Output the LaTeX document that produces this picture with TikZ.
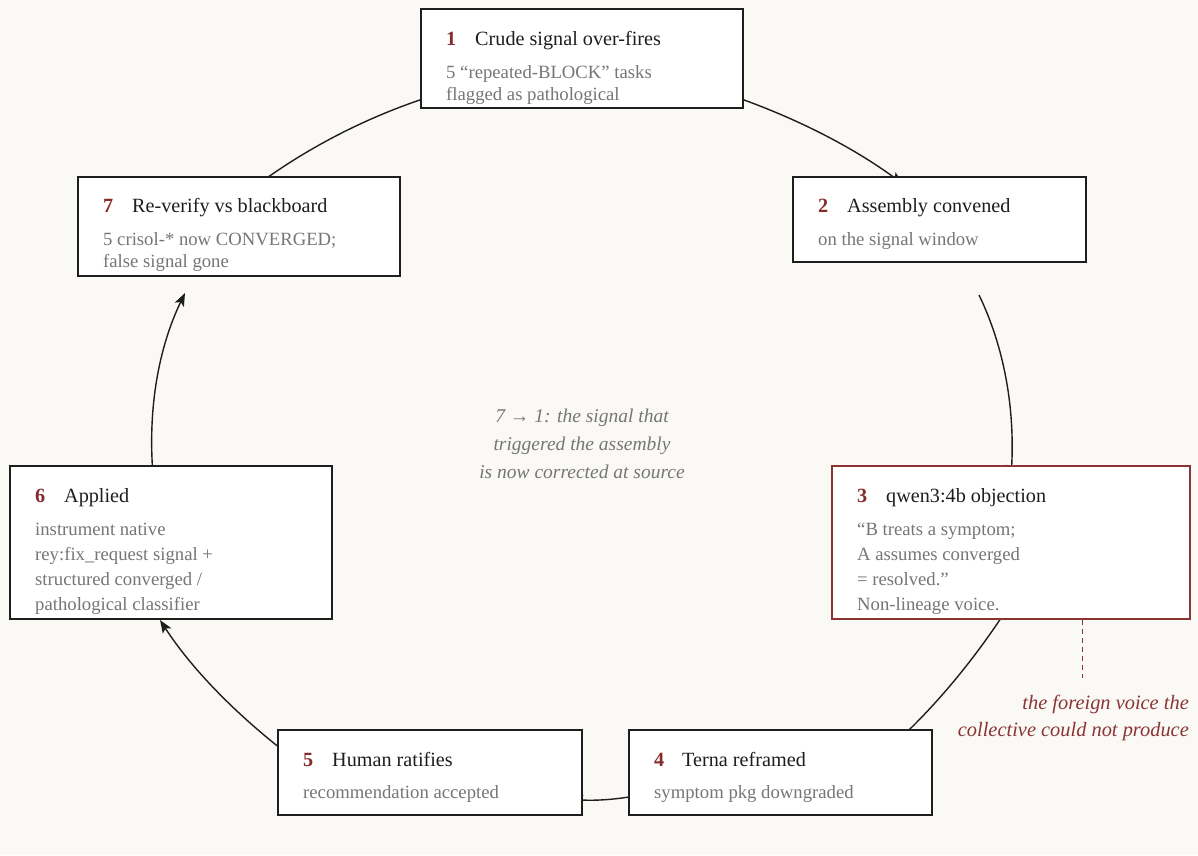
\documentclass[tikz,border=0pt]{standalone}
\usepackage{fontspec}
\setmainfont{Liberation Serif}
\usetikzlibrary{arrows.meta}
\definecolor{bg}{HTML}{FAF9F5}
\definecolor{numred}{HTML}{862B2B}
\definecolor{subgray}{HTML}{767676}
\definecolor{ink}{HTML}{1E1E1E}
\definecolor{accent}{HTML}{8A3434}
\begin{document}
\begin{tikzpicture}[x=1pt,y=-1pt,
  box/.style={draw=ink, line width=1.5pt, fill=white, rectangle, inner sep=0pt},
  redbox/.style={box, draw=accent},
  conn/.style={draw=ink, line width=1.4pt},
  arr/.style={conn, -{Stealth[length=13pt,width=10pt,inset=3pt]}},
  num/.style={anchor=base west, inner sep=0pt, text=numred, font=\fontsize{20.2}{24}\selectfont\bfseries},
  ttl/.style={anchor=base west, inner sep=0pt, text=ink, font=\fontsize{20.2}{24}\selectfont},
  sub/.style={anchor=base west, inner sep=0pt, text=subgray, font=\fontsize{18.7}{22}\selectfont},
  note/.style={anchor=base, inner sep=0pt, text=subgray, font=\fontsize{19.5}{24}\selectfont\itshape},
  ann/.style={anchor=base east, inner sep=0pt, text=accent, font=\fontsize{20.4}{24}\selectfont\itshape},
]
\useasboundingbox[fill=bg] (0,0) rectangle (1198,855);

% connector end points
\coordinate (c12a) at (730,95);    \coordinate (c12b) at (903,184);
\coordinate (c23a) at (979,295);   \coordinate (c23b) at (1011,478);
\coordinate (c34a) at (1005,612);  \coordinate (c34b) at (893,745);
\coordinate (c45a) at (640,795);   \coordinate (c45b) at (570,799);
\coordinate (c56a) at (285,752);   \coordinate (c56b) at (160,620);
\coordinate (c67a) at (153,475);   \coordinate (c67b) at (185,293);
\coordinate (c71a) at (260.5,182.5); \coordinate (c71b) at (435,95);

\draw[arr] (c12a) .. controls (795,117.3) and (852.7,147) .. (c12b);
\draw[arr] (c23a) .. controls (1004.3,347.3) and (1015,408.3) .. (c23b);
\draw[arr] (c34a) .. controls (973,661) and (935.7,705.3) .. (c34b);
\draw[arr] (c45a) .. controls (616.7,799.7) and (593.3,801) .. (c45b);
\draw[arr] (c56a) .. controls (232,710.7) and (190.3,666.7) .. (c56b);
\draw[arr] (c67a) .. controls (147.7,409) and (158.3,348.3) .. (c67b);
\draw[arr] (c71a) .. controls (311,145.7) and (369.2,116.5) .. (c71b);

% boxes
\node[box, minimum width=322, minimum height=99] (b1) at (582,58.5) {};
\node[box, minimum width=293, minimum height=85] (b2) at (939.5,219.5) {};
\node[redbox, minimum width=358, minimum height=153] (b3) at (1011,542.5) {};
\node[box, minimum width=303, minimum height=85] (b4) at (780.5,772.5) {};
\node[box, minimum width=304, minimum height=85] (b5) at (430,772.5) {};
\node[box, minimum width=322, minimum height=153] (b6) at (171,542.5) {};
\node[box, minimum width=322, minimum height=99] (b7) at (239,226.5) {};

% box 1
\node[num] (n1) at (446,45) {1};
\node[ttl] (t1) at (475,45) {Crude signal over-fires};
\node[sub] (s1a) at (446,78) {5 “repeated-BLOCK” tasks};
\node[sub] (s1b) at (446,100) {flagged as pathological};
% box 2
\node[num] (n2) at (818,212) {2};
\node[ttl] (t2) at (847,212) {Assembly convened};
\node[sub] (s2a) at (818,245) {on the signal window};
% box 3
\node[num] (n3) at (857,502) {3};
\node[ttl] (t3) at (886,502) {qwen3:4b objection};
\node[sub] (s3a) at (857,535) {“B treats a symptom;};
\node[sub] (s3b) at (857,560) {A assumes converged};
\node[sub] (s3c) at (857,585) {= resolved.”};
\node[sub] (s3d) at (857,610) {Non-lineage voice.};
% box 4
\node[num] (n4) at (654,766) {4};
\node[ttl] (t4) at (682,766) {Terna reframed};
\node[sub] (s4a) at (654,798.5) {symptom pkg downgraded};
% box 5
\node[num] (n5) at (303,766) {5};
\node[ttl] (t5) at (332,766) {Human ratifies};
\node[sub] (s5a) at (303,798.5) {recommendation accepted};
% box 6
\node[num] (n6) at (35,502) {6};
\node[ttl] (t6) at (64,502) {Applied};
\node[sub] (s6a) at (35,535) {instrument native};
\node[sub] (s6b) at (35,560) {rey:fix\_request signal +};
\node[sub] (s6c) at (35,585) {structured converged /};
\node[sub] (s6d) at (35,610) {pathological classifier};
% box 7
\node[num] (n7) at (103,212) {7};
\node[ttl] (t7) at (132,212) {Re-verify vs blackboard};
\node[sub] (s7a) at (103,245) {5 crisol-* now CONVERGED;};
\node[sub] (s7b) at (103,267) {false signal gone};

% centre note
\node[note] (m1) at (582,422) {7 → 1: the signal that};
\node[note] (m2) at (582,450) {triggered the assembly};
\node[note] (m3) at (582,478) {is now corrected at source};

% annotation
\coordinate (d1) at (1082,678);
\draw[accent, line width=1pt, dash pattern=on 5pt off 4pt] (b3.south -| d1) -- (d1);
\node[ann] (a1) at (1189,709) {the foreign voice the};
\node[ann] (a2) at (1189,736) {collective could not produce};
\end{tikzpicture}
\end{document}
